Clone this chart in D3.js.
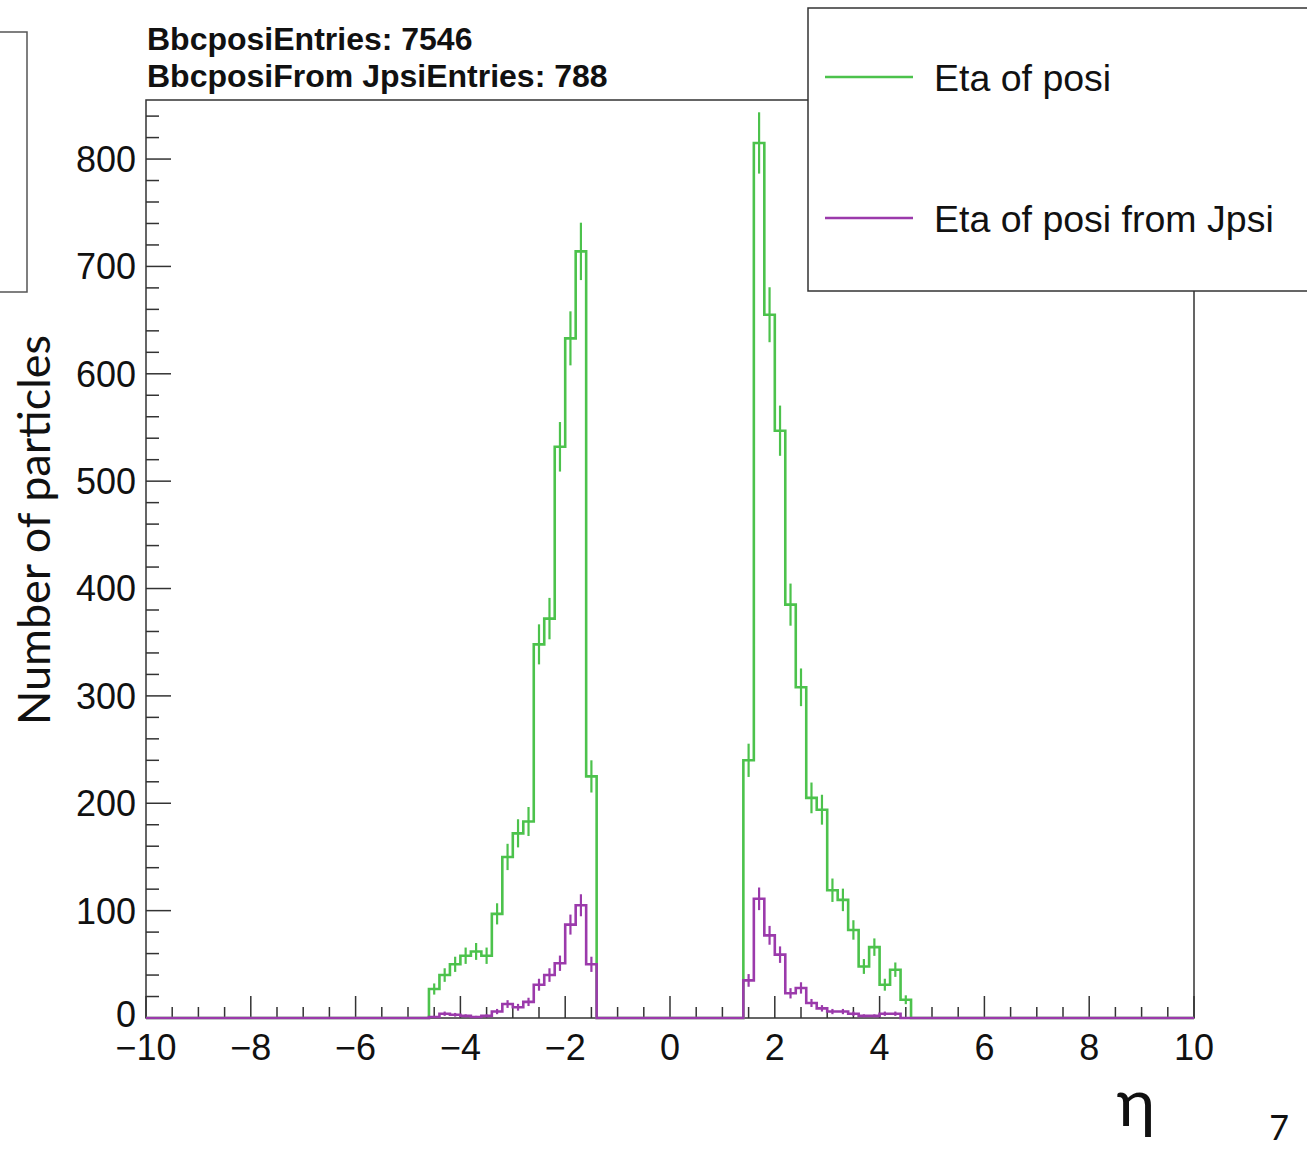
<!DOCTYPE html>
<html>
<head>
<meta charset="utf-8">
<script src="https://cdn.jsdelivr.net/npm/d3@7"></script>
<style>
  html, body { margin: 0; padding: 0; background: #fff; }
  svg { display: block; }
</style>
</head>
<body>
<div id="chart"></div>
<script>
// ---------------- data ----------------
const xRange = [-10, 10];
const binWidth = 0.2;
const xTickValues = [-10, -8, -6, -4, -2, 0, 2, 4, 6, 8, 10];
const yTickValues = [0, 100, 200, 300, 400, 500, 600, 700, 800];

// 100 bins from -10 to 10 (width 0.2)
const etaOfPosi = [
  0,0,0,0,0,0,0,0,0,0, 0,0,0,0,0,0,0,0,0,0, 0,0,0,0,0,0,0,
  27,40,50,58,62,58,97,150,172,183,348,372,532,633,714,225,
  0,0,0,0,0,0,0,0,0,0,0,0,0,0,
  240,815,655,547,385,308,205,194,119,110,82,48,66,31,45,17,
  0,0,0,0,0,0,0,0,0,0, 0,0,0,0,0,0,0,0,0,0, 0,0,0,0,0,0,0
];
const etaOfPosiFromJpsi = [
  0,0,0,0,0,0,0,0,0,0, 0,0,0,0,0,0,0,0,0,0, 0,0,0,0,0,0,0,
  1,4,3,2,1,2,6,13,10,15,31,40,51,87,105,50,
  0,0,0,0,0,0,0,0,0,0,0,0,0,0,
  35,111,77,59,23,28,14,9,6,6,4,2,2,4,4,0,
  0,0,0,0,0,0,0,0,0,0, 0,0,0,0,0,0,0,0,0,0, 0,0,0,0,0,0,0
];
const seriesNames = ["Eta of posi", "Eta of posi from Jpsi"];
const statsLines = ["BbcposiEntries: 7546", "BbcposiFrom JpsiEntries: 788"];
const yTitle = "Number of particles";
const xTitle = "η";
const pageNumber = "7";

// ---------------- layout ----------------
const W = 1307, H = 1149;
const frame = { left: 146, right: 1194, top: 100, bottom: 1018 };
const colors = { green: "#4cc24c", purple: "#9b3aab", axis: "#333" };

const svg = d3.select("#chart").append("svg").attr("width", W).attr("height", H);

const x = d3.scaleLinear().domain(xRange).range([frame.left, frame.right]);
const y = d3.scaleLinear().domain([0, 855]).range([frame.bottom, frame.top]);

// frame
svg.append("rect")
  .attr("x", frame.left).attr("y", frame.top)
  .attr("width", frame.right - frame.left).attr("height", frame.bottom - frame.top)
  .attr("fill", "none").attr("stroke", colors.axis).attr("stroke-width", 1.5);

// y axis (ticks inside)
const yMinor = d3.range(0, 855, 20);
svg.append("g").selectAll("line").data(yMinor).join("line")
  .attr("x1", frame.left).attr("x2", d => frame.left + (d % 100 === 0 ? 25 : 13))
  .attr("y1", d => y(d)).attr("y2", d => y(d))
  .attr("stroke", colors.axis).attr("stroke-width", 1.5);
svg.append("g").selectAll("text").data(yTickValues).join("text")
  .attr("x", frame.left - 10).attr("y", d => y(d) - (d === 0 ? 4 : 0))
  .attr("dy", "0.36em").attr("text-anchor", "end")
  .attr("font-family", "Liberation Sans, Arial, sans-serif").attr("font-size", 36)
  .attr("fill", "#111").text(d => d);

// x axis (ticks inside)
const xMinor = d3.range(-10, 10.001, 0.5);
svg.append("g").selectAll("line").data(xMinor).join("line")
  .attr("x1", d => x(d)).attr("x2", d => x(d))
  .attr("y1", frame.bottom).attr("y2", d => frame.bottom - (Math.abs(d % 2) < 1e-9 ? 22 : 11))
  .attr("stroke", colors.axis).attr("stroke-width", 1.5);
svg.append("g").selectAll("text").data(xTickValues).join("text")
  .attr("x", d => x(d)).attr("y", 1060)
  .attr("text-anchor", "middle")
  .attr("font-family", "Liberation Sans, Arial, sans-serif").attr("font-size", 36)
  .attr("fill", "#111").text(d => d < 0 ? "\u2212" + Math.abs(d) : d);

// histograms
function drawHist(values, color) {
  const pts = values.map((v, i) => [xRange[0] + i * binWidth, v]);
  pts.push([xRange[1], values[values.length - 1]]);
  const line = d3.line().x(d => x(d[0])).y(d => y(d[1])).curve(d3.curveStepAfter);
  const g = svg.append("g");
  g.append("path").attr("d", line(pts)).attr("fill", "none")
    .attr("stroke", color).attr("stroke-width", 2.6);
  const nz = values.map((v, i) => ({ v, c: xRange[0] + (i + 0.5) * binWidth })).filter(d => d.v > 0);
  g.selectAll("line.err").data(nz).join("line").attr("class", "err")
    .attr("x1", d => x(d.c)).attr("x2", d => x(d.c))
    .attr("y1", d => y(Math.max(0, d.v - Math.sqrt(d.v))))
    .attr("y2", d => y(d.v + Math.sqrt(d.v)))
    .attr("stroke", color).attr("stroke-width", 2.2);
}
drawHist(etaOfPosi, colors.green);
drawHist(etaOfPosiFromJpsi, colors.purple);

// stats text
svg.append("g").selectAll("text").data(statsLines).join("text")
  .attr("x", 147).attr("y", (d, i) => 50 + i * 37)
  .attr("font-family", "Liberation Sans, Arial, sans-serif").attr("font-weight", "bold")
  .attr("font-size", 32).attr("fill", "#111").text(d => d);

// legend
const lg = svg.append("g");
lg.append("rect").attr("x", 808).attr("y", 8).attr("width", 520).attr("height", 283)
  .attr("fill", "#fff").attr("stroke", colors.axis).attr("stroke-width", 1.5);
const legendItems = [
  { name: seriesNames[0], color: colors.green, y: 77 },
  { name: seriesNames[1], color: colors.purple, y: 218 }
];
legendItems.forEach(it => {
  lg.append("line").attr("x1", 825).attr("x2", 913).attr("y1", it.y).attr("y2", it.y)
    .attr("stroke", it.color).attr("stroke-width", 2.6);
  lg.append("text").attr("x", 934).attr("y", it.y).attr("dy", "0.36em")
    .attr("font-family", "Liberation Sans, Arial, sans-serif").attr("font-size", 37.5)
    .attr("fill", "#111").text(it.name);
});

// partial box at top-left
svg.append("path").attr("d", "M0,32 H27 V292 H0")
  .attr("fill", "none").attr("stroke", "#555").attr("stroke-width", 1.5);

// y title
svg.append("text")
  .attr("transform", "translate(50,530) rotate(-90)")
  .attr("text-anchor", "middle")
  .attr("font-family", "Lato, Open Sans, sans-serif").attr("font-size", 44)
  .attr("textLength", 390).attr("lengthAdjust", "spacingAndGlyphs")
  .attr("fill", "#111").text(yTitle);

// x title and page number
svg.append("text").attr("x", 1136).attr("y", 1126).attr("text-anchor", "middle")
  .attr("font-family", "Lato, DejaVu Sans, sans-serif").attr("font-size", 66)
  .attr("fill", "#111").text(xTitle);
svg.append("text").attr("x", 1279).attr("y", 1140).attr("text-anchor", "middle")
  .attr("font-family", "Lato, sans-serif").attr("font-size", 34)
  .attr("fill", "#111").text(pageNumber);
</script>
</body>
</html>
